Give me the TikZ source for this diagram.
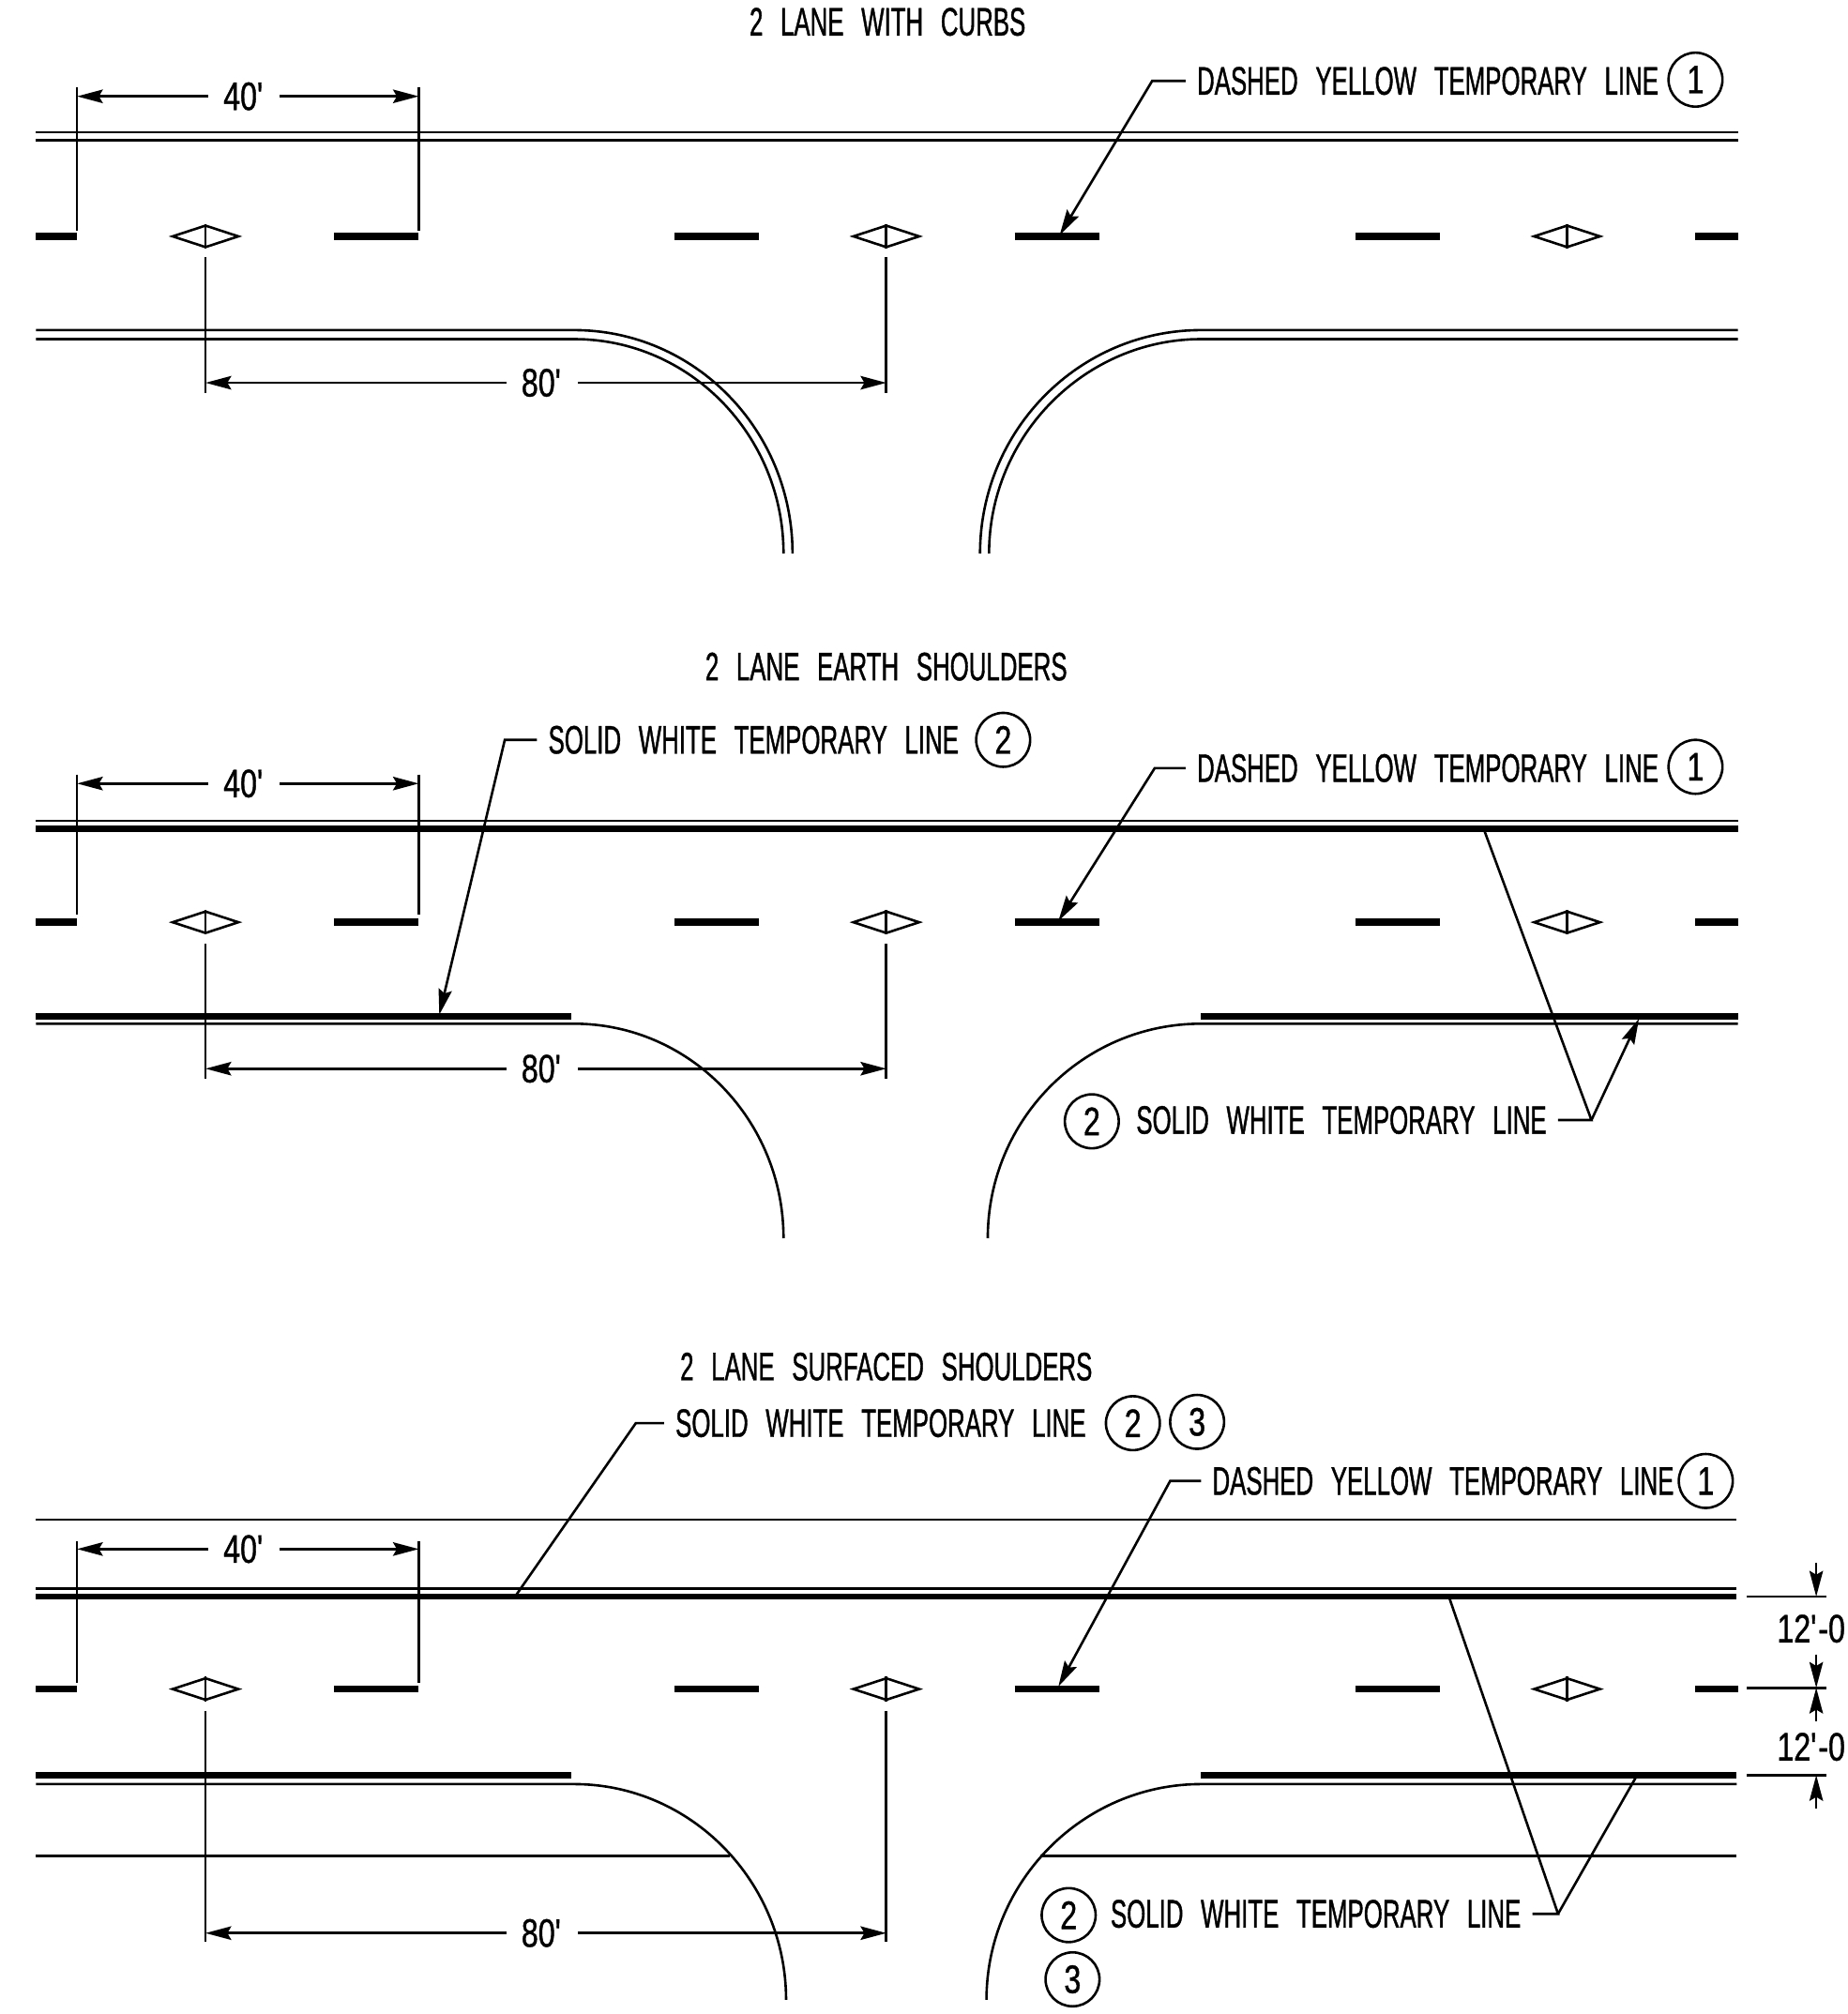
\documentclass[tikz,border=0pt]{standalone}
\usepackage{fontspec}
\setmainfont[FakeStretch=0.61,WordSpace=2.6,FakeBold=0.9]{Liberation Sans}
\newfontfamily\digitfont[FakeStretch=0.76,FakeBold=0.9]{Liberation Sans}
\usetikzlibrary{arrows.meta,shapes.geometric}
\newcommand{\ft}{\textquotesingle}
\begin{document}
\begin{tikzpicture}[x=0.1mm, y=-0.1mm, line width=0.19mm, font=\fontsize{8.8}{10}\selectfont]

    % Styles
    \tikzstyle{thickline} = [line width=0.5mm]
    \tikzstyle{roaddash} = [line width=0.55mm]
    \tikzstyle{marker} = [diamond, draw, inner sep=0pt, minimum width=5.2mm, minimum height=1.75mm]
    \tikzstyle{title} = [inner sep=0pt]
    \tikzstyle{label} = [inner sep=0.8mm, anchor=west]
    \tikzstyle{key} = [circle, draw, inner sep=0pt, minimum size=4.2mm, font=\fontsize{8.8}{10}\digitfont]
    \tikzstyle{dimtext} = [inner sep=1.1mm, font=\fontsize{8.8}{10}\digitfont]
    \tikzstyle{connection} = [-{Stealth[length=2mm, width=1.05mm, inset=0.3mm]}]

    \useasboundingbox (0,0) rectangle (1438,1568);

    % Panel Titles
    \node[title] (TA) at (691,17) {2 LANE WITH CURBS};
    \node[title] (TB) at (690,519) {2 LANE EARTH SHOULDERS};
    \node[title] (TC) at (690,1064) {2 LANE SURFACED SHOULDERS};

    % Lane Dashes and Markers
    \foreach \p/\y in {a/184,b/718,c/1315} {
        \foreach \l/\r in {28/60,260/326,525/591,790/856,1055/1121,1320/1353}
            \draw[roaddash] (\l,\y) -- (\r,\y);
        \foreach \i/\m in {1/160,2/690,3/1220} {
            \node[marker] (M\p\i) at (\m,\y) {};
            \draw (M\p\i.north) -- (M\p\i.south);
        }
    }

    % 40 ft Dimensions
    \foreach \p/\y/\t/\b in {a/75/68/180,b/610/603/712,c/1206/1200/1310} {
        \node[dimtext] (F\p) at (190,\y) {40\ft};
        \coordinate (FL\p) at (60,\y);
        \coordinate (FR\p) at (326,\y);
        \draw (60,\t) -- (60,\b);
        \draw (326,\t) -- (326,\b);
        \draw[connection] (F\p) -- (FL\p);
        \draw[connection] (F\p) -- (FR\p);
    }

    % 80 ft Dimensions
    \foreach \p/\y/\t/\b in {a/298/200/306,b/832/735/840,c/1505/1332/1512} {
        \node[dimtext] (E\p) at (422,\y) {80\ft};
        \coordinate (EL\p) at (160,\y);
        \coordinate (ER\p) at (690,\y);
        \draw (160,\t) -- (160,\b);
        \draw (690,\t) -- (690,\b);
        \draw[connection] (E\p) -- (EL\p);
        \draw[connection] (E\p) -- (ER\p);
    }

    % Panel 1: Curbs
    \draw (28,103) -- (1353,103);
    \draw (28,109) -- (1353,109);
    \draw (28,257) -- (447,257) .. controls (541,257) and (617,335) .. (617,431);
    \draw (28,264) -- (447,264) .. controls (537,264) and (610,339) .. (610,431);
    \draw (1353,257) -- (935,257) .. controls (840,257) and (763,335) .. (763,431);
    \draw (1353,264) -- (935,264) .. controls (845,264) and (770,339) .. (770,431);

    \node[label] (Ya) at (923,63) {DASHED YELLOW TEMPORARY LINE};
    \node[key] (Ka) at (1320,62) {1};
    \coordinate (Ba) at (897,63);
    \coordinate (Pa) at (825,183);
    \draw[connection] (Ya.west) -- (Ba) -- (Pa);

    % Panel 2: Earth Shoulders
    \draw (28,639) -- (1353,639);
    \draw[thickline] (28,645) -- (1353,645);
    \draw[thickline] (28,791) -- (445,791);
    \draw[thickline] (935,791) -- (1353,791);
    \draw (28,797) -- (447,797) .. controls (537,797) and (610,872) .. (610,964);
    \draw (1353,797) -- (935,797) .. controls (843,797) and (769,872) .. (769,964);

    \node[label] (Wb) at (418,576) {SOLID WHITE TEMPORARY LINE};
    \node[key] (Kb) at (781,576) {2};
    \coordinate (Cb) at (393,576);
    \coordinate (Qb) at (342,790);
    \draw[connection] (Wb.west) -- (Cb) -- (Qb);

    \node[label] (Yb) at (923,598) {DASHED YELLOW TEMPORARY LINE};
    \node[key] (Lb) at (1320,597) {1};
    \coordinate (Bb) at (899,598);
    \coordinate (Pb) at (824,717);
    \draw[connection] (Yb.west) -- (Bb) -- (Pb);

    \node[label, anchor=east] (Vb) at (1213,872) {SOLID WHITE TEMPORARY LINE};
    \node[key] (Nb) at (850,873) {2};
    \coordinate (Gb) at (1239,872);
    \coordinate (Rb) at (1155,645);
    \coordinate (Sb) at (1276,793);
    \draw (Vb.east) -- (Gb) -- (Rb);
    \draw[connection] (Gb) -- (Sb);

    % Panel 3: Surfaced Shoulders
    \draw (28,1183) -- (1352,1183);
    \draw (28,1237) -- (1352,1237);
    \draw[thickline] (28,1243) -- (1352,1243);
    \draw[thickline] (28,1382) -- (445,1382);
    \draw[thickline] (935,1382) -- (1352,1382);
    \draw (28,1389) -- (447,1389) .. controls (538,1389) and (612,1465) .. (612,1557);
    \draw (1352,1389) -- (935,1389) .. controls (843,1389) and (768,1465) .. (768,1557);
    \draw (28,1445) -- (568,1445);
    \draw (810,1445) -- (1352,1445);

    \node[label] (Wc) at (517,1108) {SOLID WHITE TEMPORARY LINE};
    \node[key] (Kc) at (882,1108) {2};
    \node[key] (Jc) at (932,1107) {3};
    \coordinate (Cc) at (495,1108);
    \coordinate (Qc) at (401,1243);
    \draw (Wc.west) -- (Cc) -- (Qc);

    \node[label] (Yc) at (935,1153) {DASHED YELLOW TEMPORARY LINE};
    \node[key] (Lc) at (1328,1153) {1};
    \coordinate (Bc) at (911,1153);
    \coordinate (Pc) at (824,1313);
    \draw[connection] (Yc.west) -- (Bc) -- (Pc);

    \node[label, anchor=east] (Vc) at (1193,1490) {SOLID WHITE TEMPORARY LINE};
    \node[key] (Nc) at (832,1491) {2};
    \node[key] (Oc) at (835,1541) {3};
    \coordinate (Gc) at (1213,1490);
    \coordinate (Rc) at (1128,1243);
    \coordinate (Sc) at (1274,1383);
    \draw (Vc.east) -- (Gc) -- (Rc);
    \draw (Gc) -- (Sc);

    % Lane Width Dimensions
    \draw (1360,1243) -- (1422,1243);
    \draw (1360,1314) -- (1422,1314);
    \draw (1360,1382) -- (1422,1382);
    \node[dimtext, inner sep=0pt] (H1) at (1410,1268) {12\ft-0};
    \node[dimtext, inner sep=0pt] (H2) at (1410,1360) {12\ft-0};
    \foreach \i/\s/\e in {1/1217/1243,2/1288/1314,3/1340/1314,4/1408/1382} {
        \coordinate (U\i) at (1414,\s);
        \coordinate (W\i) at (1414,\e);
        \draw[connection] (U\i) -- (W\i);
    }

\end{tikzpicture}
\end{document}
